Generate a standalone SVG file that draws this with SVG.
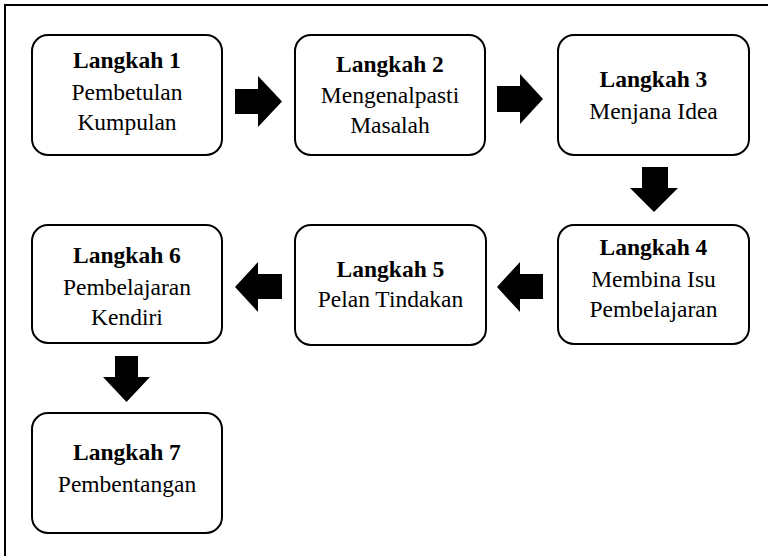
<svg xmlns="http://www.w3.org/2000/svg" width="768" height="556" viewBox="0 0 768 556">
<style>
.box{fill:#fff;stroke:#000;stroke-width:2}
.arr{fill:#000;stroke:none}
.t{font-family:'Liberation Serif','Times New Roman',serif;font-size:23.5px;fill:#000;text-anchor:middle}
.b{font-weight:bold}
</style>
<rect x="0" y="0" width="768" height="556" fill="#fff"/>
<rect x="5" y="5" width="800" height="600" fill="none" stroke="#000" stroke-width="2"/>
<g class="t">
<g id="n1"><rect class="box" x="32" y="35" width="190" height="120" rx="16"/>
<text class="b" x="127" y="68">Langkah 1</text><text x="127" y="100">Pembetulan</text><text x="127" y="130">Kumpulan</text></g>
<g id="n2"><rect class="box" x="295" y="35" width="190" height="120" rx="16"/>
<text class="b" x="390" y="72">Langkah 2</text><text x="390" y="103">Mengenalpasti</text><text x="390" y="133">Masalah</text></g>
<g id="n3"><rect class="box" x="558" y="35" width="191" height="120" rx="16"/>
<text class="b" x="653.5" y="87">Langkah 3</text><text x="653.5" y="119">Menjana Idea</text></g>
<g id="n4"><rect class="box" x="558" y="225" width="191" height="119" rx="16"/>
<text class="b" x="653.5" y="255">Langkah 4</text><text x="653.5" y="287">Membina Isu</text><text x="653.5" y="317">Pembelajaran</text></g>
<g id="n5"><rect class="box" x="295" y="225" width="191" height="120" rx="16"/>
<text class="b" x="390.5" y="277">Langkah 5</text><text x="390.5" y="307">Pelan Tindakan</text></g>
<g id="n6"><rect class="box" x="32" y="225" width="190" height="118" rx="16"/>
<text class="b" x="127" y="263">Langkah 6</text><text x="127" y="295">Pembelajaran</text><text x="127" y="325">Kendiri</text></g>
<g id="n7"><rect class="box" x="32" y="413" width="190" height="120" rx="16"/>
<text class="b" x="127" y="460">Langkah 7</text><text x="127" y="492">Pembentangan</text></g>
</g>
<g id="connectors">
<polygon class="arr" points="235,89 258,89 258,76 282,101.5 258,127 258,114 235,114"/>
<polygon class="arr" points="497,86 520,86 520,74 543,99 520,124 520,112 497,112"/>
<polygon class="arr" points="642,167 668,167 668,188 678,188 654,212 630,188 642,188"/>
<polygon class="arr" points="282,274 258,274 258,262 235,287 258,312 258,299 282,299"/>
<polygon class="arr" points="543,274 520,274 520,262 497,287 520,312 520,299 543,299"/>
<polygon class="arr" points="115,356 138,356 138,377 150,377 126.5,402 103,377 115,377"/>
</g>
</svg>
